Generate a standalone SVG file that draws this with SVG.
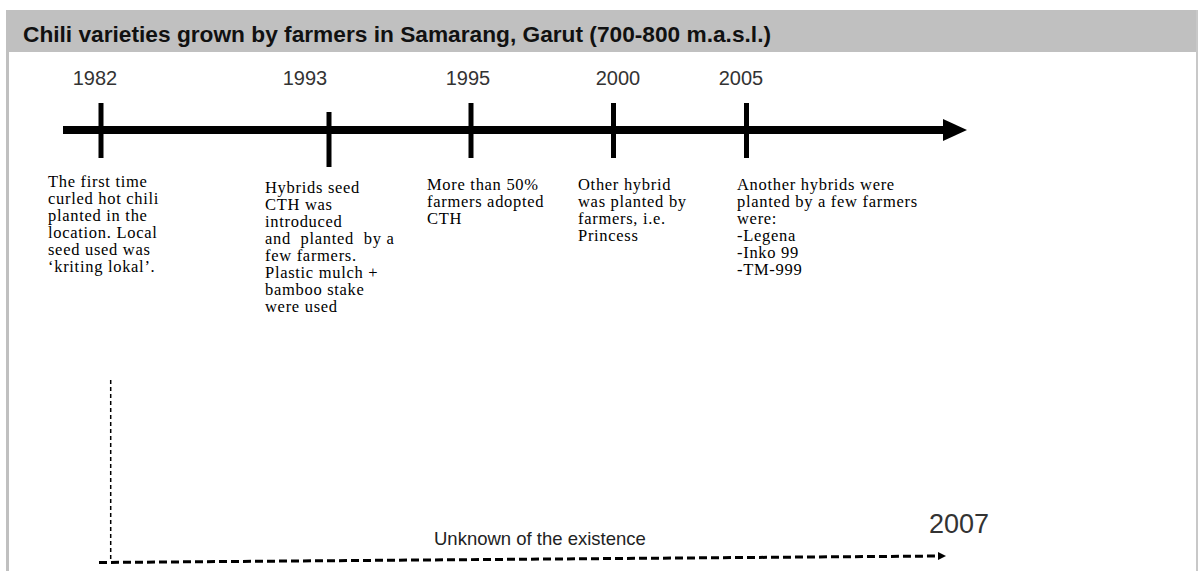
<svg xmlns="http://www.w3.org/2000/svg" width="1200" height="571" viewBox="0 0 1200 571">
  <style>
    .year { font-family: "Liberation Sans", Arial, sans-serif; font-size: 20px; fill: #333; text-anchor: middle; }
    .note { font-family: "Liberation Serif", "Times New Roman", serif; font-size: 16.5px; fill: #000; letter-spacing: 0.7px; }
    .tick { stroke: #000; stroke-width: 5; }
    .frame { fill: #c0c0c0; }
  </style>
  <defs>
    <marker id="smallHead" markerWidth="8" markerHeight="8" refX="2" refY="4" orient="auto" markerUnits="userSpaceOnUse">
      <path d="M0,0 L8,4 L0,8 Z" fill="#000"/>
    </marker>
  </defs>
  <rect width="1200" height="571" fill="#fff"/>
  <g id="frame">
    <rect class="frame" x="6" y="10" width="1192" height="42"/>
    <rect class="frame" x="6" y="10" width="3" height="561"/>
    <rect x="1196" y="10" width="2" height="561" fill="#c8c8c8"/>
    <text x="23" y="42" font-family="'Liberation Sans Narrow', 'Liberation Sans', Arial, sans-serif" font-weight="bold" font-size="22" fill="#111" textLength="748" lengthAdjust="spacingAndGlyphs">Chili varieties grown by farmers in Samarang, Garut (700-800 m.a.s.l.)</text>
  </g>
  <g id="connectors">
    <line x1="63" y1="130" x2="945" y2="130" stroke="#000" stroke-width="8"/>
    <polygon points="943,119 967,130 943,141" fill="#000"/>
    <line x1="110.7" y1="380" x2="110.7" y2="560" stroke="#000" stroke-width="1.5" stroke-dasharray="4 3"/>
    <line x1="99" y1="562.5" x2="940" y2="556" stroke="#000" stroke-width="3" stroke-dasharray="8 4" marker-end="url(#smallHead)"/>
  </g>
  <g id="event-1982">
    <text class="year" x="95" y="85">1982</text>
    <line class="tick" x1="101" y1="103" x2="101" y2="158"/>
    <text class="note" x="48" y="187">
      <tspan x="48" dy="0">The first time</tspan>
      <tspan x="48" dy="17">curled hot chili</tspan>
      <tspan x="48" dy="17">planted in the</tspan>
      <tspan x="48" dy="17">location. Local</tspan>
      <tspan x="48" dy="17">seed used was</tspan>
      <tspan x="48" dy="17">‘kriting lokal’.</tspan>
    </text>
  </g>
  <g id="event-1993">
    <text class="year" x="305" y="85">1993</text>
    <line class="tick" x1="329" y1="112" x2="329" y2="167"/>
    <text class="note" x="265" y="193">
      <tspan x="265" dy="0">Hybrids seed</tspan>
      <tspan x="265" dy="17">CTH was</tspan>
      <tspan x="265" dy="17">introduced</tspan>
      <tspan x="265" dy="17" xml:space="preserve">and  planted  by a</tspan>
      <tspan x="265" dy="17">few farmers.</tspan>
      <tspan x="265" dy="17">Plastic mulch +</tspan>
      <tspan x="265" dy="17">bamboo stake</tspan>
      <tspan x="265" dy="17">were used</tspan>
    </text>
  </g>
  <g id="event-1995">
    <text class="year" x="468" y="85">1995</text>
    <line class="tick" x1="471" y1="103" x2="471" y2="158"/>
    <text class="note" x="427" y="190">
      <tspan x="427" dy="0">More than 50%</tspan>
      <tspan x="427" dy="17">farmers adopted</tspan>
      <tspan x="427" dy="17">CTH</tspan>
    </text>
  </g>
  <g id="event-2000">
    <text class="year" x="618" y="85">2000</text>
    <line class="tick" x1="613.5" y1="103" x2="613.5" y2="158"/>
    <text class="note" x="578" y="190">
      <tspan x="578" dy="0">Other hybrid</tspan>
      <tspan x="578" dy="17">was planted by</tspan>
      <tspan x="578" dy="17">farmers, i.e.</tspan>
      <tspan x="578" dy="17">Princess</tspan>
    </text>
  </g>
  <g id="event-2005">
    <text class="year" x="741" y="85">2005</text>
    <line class="tick" x1="746.5" y1="103" x2="746.5" y2="158"/>
    <text class="note" x="737" y="190">
      <tspan x="737" dy="0">Another hybrids were</tspan>
      <tspan x="737" dy="17">planted by a few farmers</tspan>
      <tspan x="737" dy="17">were:</tspan>
      <tspan x="737" dy="17">-Legena</tspan>
      <tspan x="737" dy="17">-Inko 99</tspan>
      <tspan x="737" dy="17">-TM-999</tspan>
    </text>
  </g>
  <g id="unknown-period">
    <text x="434" y="545" font-family="'Liberation Sans', Arial, sans-serif" font-size="18.5" fill="#222">Unknown of the existence</text>
    <text x="929" y="533" font-family="'Liberation Sans', Arial, sans-serif" font-size="27" fill="#333">2007</text>
  </g>
</svg>
